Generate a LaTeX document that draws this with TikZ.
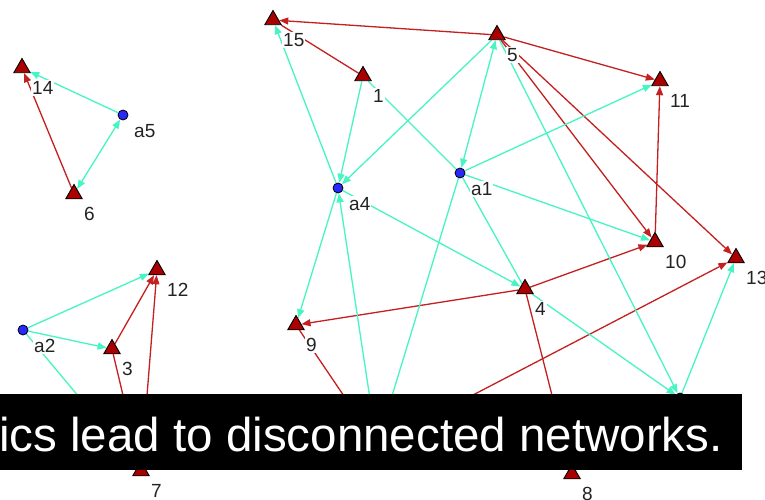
\documentclass[tikz,border=0pt]{standalone}
\usepackage{fontspec}
\setmainfont{Liberation Sans}
\usetikzlibrary{arrows.meta,shapes.geometric,backgrounds}
\definecolor{LinkRed}{RGB}{196,32,32}
\definecolor{NodeRed}{RGB}{170,0,0}
\definecolor{LinkCyan}{RGB}{70,245,195}
\definecolor{AgentBlue}{RGB}{40,40,250}
\definecolor{LabelGray}{RGB}{35,35,35}

\begin{document}
\begin{tikzpicture}[x=1pt,y=-1pt,>={Triangle[length=9pt,width=7pt]},
    lbl/.style={anchor=west,fill=white,inner sep=1pt,text=LabelGray,font=\fontsize{19}{19}\selectfont},
    trishape/.style={regular polygon,regular polygon sides=3,minimum size=19pt,inner sep=0pt,
      fill=NodeRed,draw=black,line width=0.9pt},
    agentshape/.style={circle,minimum size=10pt,inner sep=0pt,fill=AgentBlue,draw=black,line width=0.8pt},
    tri/.style={trishape,
      append after command={node[lbl,xshift=9pt,yshift=-20pt] at (\tikzlastnode.center) {#1}}},
    agent/.style={agentshape,
      append after command={node[lbl,xshift=10pt,yshift=-16pt] at (\tikzlastnode.center) {#1}}},
    rlink/.style={draw=LinkRed,line width=1.3pt},
    clink/.style={draw=LinkCyan,line width=1.3pt}]
      \useasboundingbox (0,0) rectangle (765,500);
      % first network
      \node[tri=14] (n14) at (22,68) {};
      \node[agent=a5] (a5) at (123,115) {};
      \node[tri=6] (n6) at (74,194) {};
      % second network
      \node[tri=12] (n12) at (157,270) {};
      \node[agent=a2] (a2) at (23,330) {};
      \node[tri=3] (n3) at (112,349) {};
      \node[tri=7] (n7) at (141,471) {};
      % third network
      \node[tri=15] (n15) at (273,20) {};
      \node[tri=1] (n1) at (363,76) {};
      \node[tri=5] (n5) at (497,35) {};
      \node[tri=11] (n11) at (660,81) {};
      \node[agent=a4] (a4) at (338,188) {};
      \node[agent=a1] (a1) at (460,173) {};
      \node[tri=10] (n10) at (655,242) {};
      \node[tri=13] (n13) at (736,258) {};
      \node[tri=4] (n4) at (525,289) {};
      \node[tri=9] (n9) at (296,325) {};
      \node[tri=8] (n8) at (572,474) {};
      \node[trishape] (n2) at (377,445) {};
      \node[agentshape] (a3) at (680,398) {};
      \begin{scope}[on background layer]
        \fill[white] (0,0) rectangle (765,500);
        \draw[rlink,->] (n6) -- (n14);
        \draw[rlink,->] (n3) -- (n12);
        \draw[rlink,->] (n7) -- (n12);
        \draw[rlink,->] (n3) -- (n7);
        \draw[rlink,->] (n5) -- (n15);
        \draw[rlink] (n1) -- (n15);
        \draw[rlink,->] (n5) -- (n11);
        \draw[rlink,->] (n5) -- (n10);
        \draw[rlink,->] (n5) -- (n13);
        \draw[rlink,->] (n10) -- (n11);
        \draw[rlink,->] (n4) -- (n10);
        \draw[rlink,->] (n4) -- (n9);
        \draw[rlink,->] (n4) -- (n8);
        \draw[rlink,->] (n9) -- (n2);
        \draw[rlink,->] (n2) -- (n13);
        % agent links
        \draw[clink,->] (a5) -- (n14);
        \draw[clink,<->] (a5) -- (n6);
        \draw[clink,->] (a2) -- (n12);
        \draw[clink,->] (a2) -- (n3);
        \draw[clink,->] (a2) -- (n7);
        \draw[clink,->] (a4) -- (n15);
        \draw[clink,->] (n1) -- (a4);
        \draw[clink,->] (n5) -- (a4);
        \draw[clink] (n1) -- (a1);
        \draw[clink,<->] (a1) -- (n5);
        \draw[clink,->] (a1) -- (n11);
        \draw[clink,->] (a1) -- (n10);
        \draw[clink] (a1) -- (n4);
        \draw[clink,->] (a4) -- (n4);
        \draw[clink,->] (a4) -- (n9);
        \draw[clink,->] (n2) -- (a4);
        \draw[clink,->] (a1) -- (n2);
        \draw[clink,->] (n5) -- (a3);
        \draw[clink,->] (n4) -- (a3);
        \draw[clink,->] (a3) -- (n13);
      \end{scope}
      \fill[black] (0,394) rectangle (742,470);
      \node[anchor=base west,inner sep=0pt,text=white,font=\fontsize{47.5}{47.5}\selectfont]
        (caption) at (-1,451) {ics lead to disconnected networks.};
    \end{tikzpicture}
\end{document}
